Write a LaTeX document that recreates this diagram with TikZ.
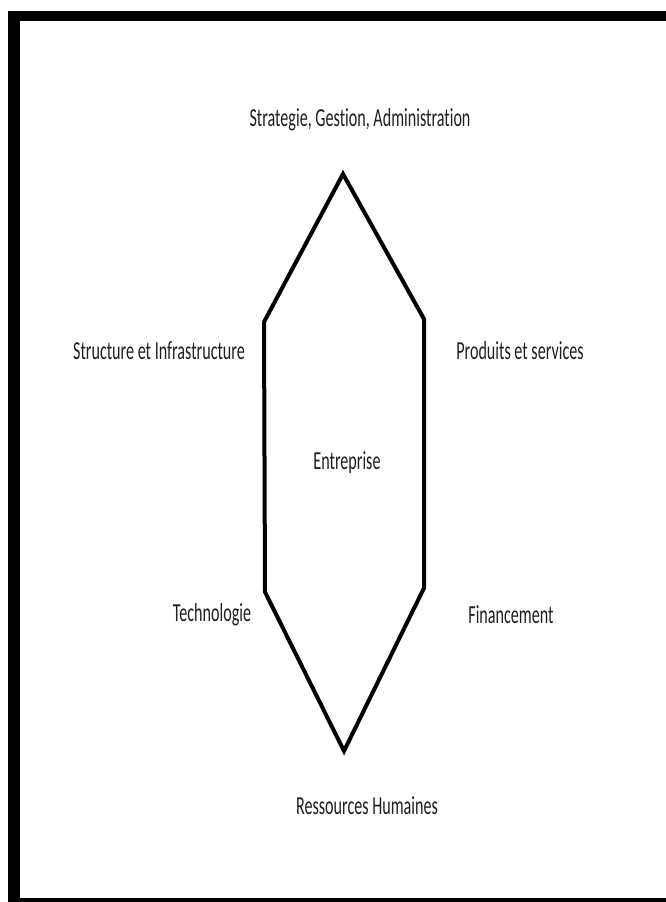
\documentclass[tikz,border=0pt]{standalone}
\usepackage{fontspec}
\usepackage{graphicx}
\setmainfont[RawFeature={-liga;-dlig;-clig}]{Carlito}
\newcommand{\narrow}[1]{\scalebox{0.62}[1]{#1}}
\tikzset{
  lbl/.style={inner sep=0pt, font=\fontsize{26}{30}\selectfont, text=black!88},
  frameband/.style={fill=black, draw=none},
  hexline/.style={draw=black, line width=4pt, line join=miter}
}
\begin{document}
\begin{tikzpicture}[x=1pt,y=-1pt]
\useasboundingbox (0,0) rectangle (666,902);
\fill[white] (0,0) rectangle (666,902);
% frame
\fill[frameband] (8,11) rectangle (20,902);
\fill[frameband] (8,11) rectangle (666,21);
\fill[frameband] (20,898) rectangle (666,902);
% hexagon
\coordinate (top) at (343,174);
\coordinate (ur) at (424,319);
\coordinate (lr) at (424,588);
\coordinate (bot) at (344,751);
\coordinate (ll) at (265,592);
\coordinate (ul) at (264,322);
\draw[hexline] (top) -- (ur) -- (lr) -- (bot) -- (ll) -- (ul) -- cycle;
% labels
\node[lbl] (sga) at (360,120) {\narrow{Strategie, Gestion, Administration}};
\node[lbl] (sei) at (159,351) {\narrow{Structure et Infrastructure}};
\node[lbl] (pes) at (520,351) {\narrow{Produits et services}};
\node[lbl] (ent) at (347,463) {\narrow{Entreprise}};
\node[lbl] (tec) at (212,615) {\narrow{Technologie}};
\node[lbl] (fin) at (511,615) {\narrow{Financement}};
\node[lbl] (rh) at (367,806) {\narrow{Ressources Humaines}};
\end{tikzpicture}
\end{document}
